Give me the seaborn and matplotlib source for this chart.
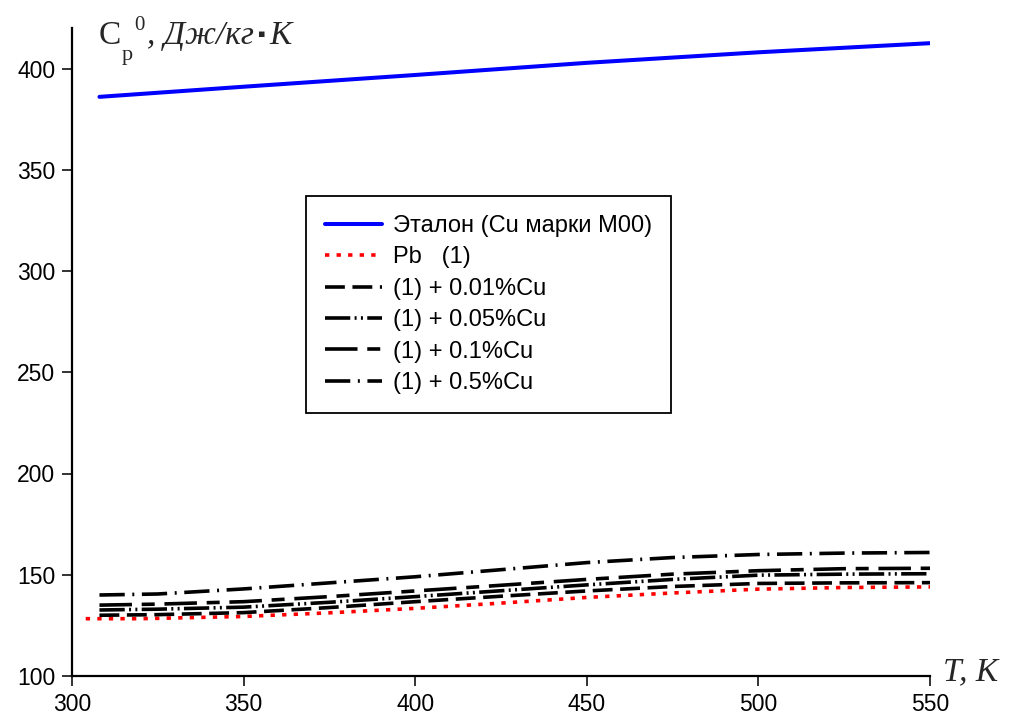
import matplotlib
matplotlib.use("Agg")
import matplotlib.pyplot as plt
import seaborn as sns
import pandas as pd

# Heat capacity of the reference copper and of lead alloys vs temperature
t_ref = [308, 350, 400, 450, 500, 550]
cp_ref = [386.0, 391.0, 396.8, 402.8, 408.0, 412.5]

t_pb = [304, 320, 350, 375, 400, 425, 450, 475, 500, 525, 550]
cp_pb = [128.3, 128.3, 129.4, 131.2, 133.4, 136.0, 138.8, 141.0, 142.9, 143.7, 144.0]

t_alloy = [308, 325, 350, 375, 400, 425, 450, 475, 500, 525, 550]
cp_cu001 = [130.0, 130.3, 131.3, 133.8, 136.7, 139.4, 142.0, 144.2, 145.7, 146.0, 146.1]
cp_cu005 = [132.6, 133.0, 134.0, 136.4, 139.2, 142.1, 145.0, 147.7, 149.8, 150.3, 150.5]
cp_cu01 = [135.0, 135.5, 136.7, 139.2, 142.0, 144.8, 147.7, 150.3, 152.0, 153.0, 153.2]
cp_cu05 = [140.0, 140.5, 143.0, 146.0, 149.0, 152.5, 156.0, 158.5, 160.0, 160.7, 161.0]

labels = ["Эталон (Cu марки М00)", "Pb   (1)", "(1) + 0.01%Cu",
          "(1) + 0.05%Cu", "(1) + 0.1%Cu", "(1) + 0.5%Cu"]

x_ticks = [300, 350, 400, 450, 500, 550]
y_ticks = [100, 150, 200, 250, 300, 350, 400]

sns.set_style("ticks")
plt.rcParams["font.family"] = ["Liberation Sans", "DejaVu Sans"]

fig = plt.figure(figsize=(10.11, 7.19), dpi=100)
ax = fig.add_axes([72 / 1011, 1 - 676 / 719, 858 / 1011, 648 / 719])

lw = 2.6
series = [
    (t_ref, cp_ref, dict(color="#0000ff", linestyle="-", linewidth=2.9)),
    (t_pb, cp_pb, dict(color="#ff0000", linestyle=(0, (1.2, 2.0)), linewidth=lw)),
    (t_alloy, cp_cu001, dict(color="black", linestyle=(0, (5.5, 2.1)), linewidth=lw)),
    (t_alloy, cp_cu005, dict(color="black",
                             linestyle=(0, (7.0, 1.2, 0.55, 1.2, 0.55, 1.2)), linewidth=lw)),
    (t_alloy, cp_cu01, dict(color="black", linestyle=(0, (9, 2.7, 3.6, 2.7)), linewidth=lw)),
    (t_alloy, cp_cu05, dict(color="black", linestyle=(0, (7.0, 2.1, 0.55, 2.1)), linewidth=lw)),
]

for (tx, cy, style), lab in zip(series, labels):
    df = pd.DataFrame({"T": tx, "Cp": cy})
    sns.lineplot(data=df, x="T", y="Cp", ax=ax, label=lab,
                 dash_capstyle="butt", **style)

ax.set_xlim(300, 550)
ax.set_ylim(100, 420)
ax.set_xticks(x_ticks)
ax.set_yticks(y_ticks)
ax.set_xlabel("")
ax.set_ylabel("")
ax.tick_params(axis="both", labelsize=16.5, length=7, width=1.4, color="#333333",
               labelcolor="black", direction="out", pad=5)
sns.despine(ax=ax)
for side in ("left", "bottom"):
    ax.spines[side].set_linewidth(1.6)
    ax.spines[side].set_color("black")

leg = ax.legend(loc="upper left", bbox_to_anchor=((306 - 72) / 858, (676 - 196) / 648),
                borderaxespad=0, fontsize=17, frameon=True, fancybox=False,
                handlelength=2.4, handletextpad=0.5, labelspacing=0.4,
                borderpad=0.8)
leg.get_frame().set_edgecolor("black")
leg.get_frame().set_linewidth(1.3)
leg.get_frame().set_alpha(1)
for txt in leg.get_texts():
    txt.set_color("black")

# Axis titles in the upper-left and lower-right corners
serif = ["Liberation Serif", "DejaVu Serif"]
px = lambda x, y: (x / 1011, 1 - y / 719)
fig.text(*px(99, 44), "C", family=serif, fontsize=24)
fig.text(*px(122, 60), "p", family=serif, fontsize=16)
fig.text(*px(134, 30), "0", family=serif, fontsize=15)
fig.text(*px(147, 44), ", Дж/кг", family=serif, style="italic", fontsize=24)
fig.text(*px(258, 37), "\u25aa", family=["DejaVu Sans"], fontsize=8)
fig.text(*px(269, 44), "K", family=serif, style="italic", fontsize=24)
fig.text(*px(943, 680), "T, K", family=serif, style="italic", fontsize=24)

fig.savefig("out.png", dpi=100)
